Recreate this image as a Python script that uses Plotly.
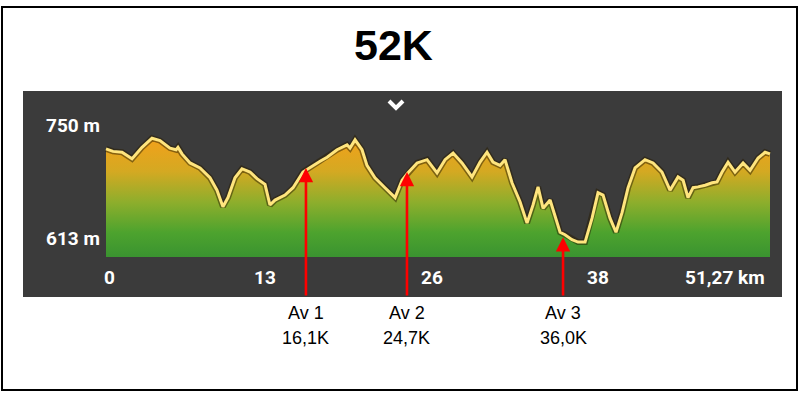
import plotly.graph_objects as go

# ---------------- data ----------------
dist_km = [0.00, 0.54, 1.24, 2.01, 2.78, 3.55, 4.17, 4.94, 5.41, 5.56, 5.87, 6.49, 7.26, 8.03,
           8.57, 9.03, 9.42, 9.96, 10.50, 11.12, 11.66, 12.28, 12.66, 13.05, 13.82, 14.44,
           15.21, 15.98, 16.53, 17.07, 17.84, 18.61, 18.84, 19.23, 19.77, 20.15, 20.77, 21.54,
           22.32, 22.86, 23.32, 24.02, 24.79, 25.56, 26.18, 26.80, 27.49, 28.26, 28.88, 29.42,
           29.88, 30.42, 30.81, 31.35, 31.97, 32.51, 32.97, 33.36, 33.75, 34.29, 34.67, 35.06,
           35.44, 35.98, 36.45, 36.99, 37.53, 37.99, 38.38, 38.92, 39.38, 39.85, 40.31, 40.85,
           41.62, 42.24, 42.93, 43.55, 44.17, 44.56, 44.94, 45.33, 45.71, 46.26, 46.80, 47.18,
           47.57, 48.03, 48.57, 49.19, 49.73, 50.35, 50.89, 51.27]
elev_m = [721, 718, 717, 709, 723, 734, 731, 722, 720, 723, 715, 704, 698, 686,
          671, 651, 662, 686, 697, 693, 685, 678, 653, 659, 665, 674,
          693, 701, 706, 711, 720, 726, 722, 732, 720, 701, 686, 674,
          662, 683, 692, 704, 708, 692, 708, 716, 704, 687, 705, 717,
          705, 701, 708, 680, 657, 631, 653, 675, 649, 659, 641, 620,
          617, 611, 608, 608, 637, 668, 665, 637, 620, 644, 674, 698,
          708, 704, 693, 671, 687, 683, 662, 674, 675, 677, 680, 681,
          693, 705, 693, 704, 695, 710, 717, 715]
BASE_ELEV = 590

y_tick_vals = [750, 613]
y_tick_text = ["750 m", "613 m"]
x_tick_pos = [0.3, 12.3, 25.2, 38.0]
x_tick_text = ["0", "13", "26", "38"]
x_end_label = "51,27 km"
x_end_pos = 51.0

stop_names = ["Av 1", "Av 2", "Av 3"]
stop_labels = ["16,1K", "24,7K", "36,0K"]
stop_pos_km = [15.44, 23.24, 35.29]
stop_tip_elev = [698, 693, 614]

title_text = "52K"

# ---------------- layout geometry (pixels) ----------------
W, H = 800, 394
L, R, T, B = 23, 782, 91, 297
def px(x):
    return (x - L) / (R - L)
def py(y):
    return (B - y) / (B - T)

# axis ranges: 0 km at x=106px, 51.27 km at x=770px; 750 m at y=125px, 613 m at y=238px
kmpp = 51.27 / (770 - 106)
x_range = [0 - (106 - L) * kmpp, 51.27 + (R - 770) * kmpp]
mpp = (750 - 613) / (238 - 125)
y_range = [613 - (B - 238) * mpp, 750 + (125 - T) * mpp]

fig = go.Figure()
fig.add_trace(go.Scatter(x=dist_km, y=[BASE_ELEV] * len(dist_km), mode="lines",
                         line=dict(width=0, color="rgba(0,0,0,0)"), hoverinfo="skip",
                         showlegend=False))
fig.add_trace(go.Scatter(x=dist_km, y=elev_m, mode="lines", fill="tonexty",
                         fillgradient=dict(type="vertical", start=BASE_ELEV, stop=738,
                                           colorscale=[[0, "#3a9330"], [0.2, "#4da32e"],
                                                       [0.45, "#8eae2c"], [0.7, "#d4a922"],
                                                       [1, "#f5a01a"]]),
                         line=dict(color="rgba(40,28,0,0.5)", width=6), showlegend=False))
fig.add_trace(go.Scatter(x=dist_km, y=elev_m, mode="lines",
                         line=dict(color="#ffe57e", width=3), showlegend=False))

annotations = []
white_font = dict(family="Roboto, Liberation Sans, sans-serif", size=19, color="white")
for v, t in zip(y_tick_vals, y_tick_text):
    annotations.append(dict(x=px(102), y=v, xref="paper", yref="y", text="<b>%s</b>" % t,
                            showarrow=False, xanchor="right", yanchor="middle", font=white_font))
for v, t in zip(x_tick_pos, x_tick_text):
    annotations.append(dict(x=v, y=py(277), xref="x", yref="paper", text="<b>%s</b>" % t,
                            showarrow=False, xanchor="center", yanchor="middle", font=white_font))
annotations.append(dict(x=x_end_pos, y=py(277), xref="x", yref="paper",
                        text="<b>%s</b>" % x_end_label, showarrow=False, xanchor="right",
                        yanchor="middle", font=white_font))

txt_font = dict(family="Liberation Sans Narrow, Arial Narrow, Liberation Sans, sans-serif",
                size=18, color="black")
for name, lab, xk, tip in zip(stop_names, stop_labels, stop_pos_km, stop_tip_elev):
    annotations.append(dict(x=xk, y=tip, xref="x", yref="y", ax=xk, ay=y_range[0],
                            axref="x", ayref="y", text="", showarrow=True, arrowhead=2,
                            arrowsize=1.1, arrowwidth=2.6, arrowcolor="#ff0000"))
    annotations.append(dict(x=xk, y=py(313), xref="x", yref="paper", text=name,
                            showarrow=False, xanchor="center", yanchor="middle", font=txt_font))
    annotations.append(dict(x=xk, y=py(338), xref="x", yref="paper", text=lab,
                            showarrow=False, xanchor="center", yanchor="middle", font=txt_font))

annotations.append(dict(x=px(393), y=py(45), xref="paper", yref="paper",
                        text="<b>%s</b>" % title_text, showarrow=False,
                        xanchor="center", yanchor="middle",
                        font=dict(family="Liberation Sans Narrow, Arial Narrow, Liberation Sans, sans-serif",
                                  size=43, color="black")))

shapes = [
    dict(type="rect", xref="paper", yref="paper", x0=px(2), x1=px(797), y0=py(390), y1=py(7),
         line=dict(color="black", width=2), fillcolor="rgba(0,0,0,0)", layer="below"),
    dict(type="path", xref="paper", yref="paper",
         path="M %f %f L %f %f L %f %f" % (px(389), py(101), px(396), py(108), px(403), py(101)),
         line=dict(color="white", width=4)),
]

fig.update_layout(
    width=W, height=H,
    margin=dict(l=L, r=W - R, t=T, b=H - B),
    paper_bgcolor="white", plot_bgcolor="#3b3b3b",
    xaxis=dict(range=x_range, showgrid=False, zeroline=False, showticklabels=False,
               fixedrange=True),
    yaxis=dict(range=y_range, showgrid=False, zeroline=False, showticklabels=False,
               fixedrange=True),
    annotations=annotations, shapes=shapes, showlegend=False,
)
fig.write_html("out.html", config={"displayModeBar": False},
               post_script="document.body.style.margin='0';document.body.style.overflow='hidden';")
